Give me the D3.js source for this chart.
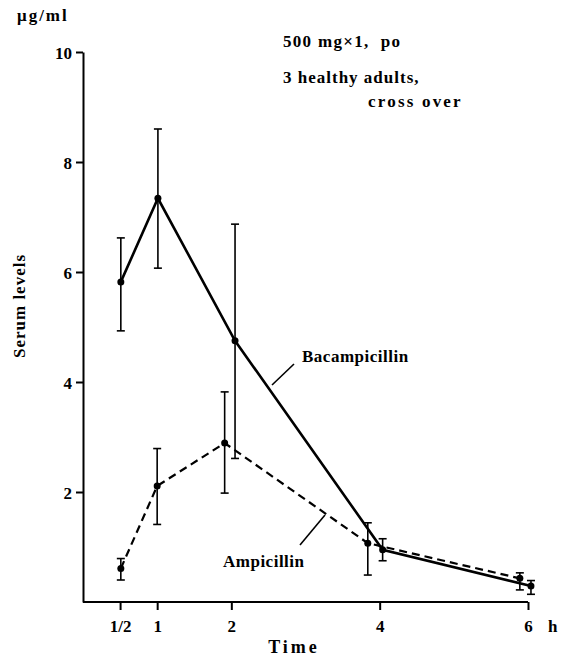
<!DOCTYPE html>
<meta charset="utf-8">
<style>
    body {
        margin: 0;
        background-color: #fff;
    }

    text {
        font-family: "Liberation Serif", "Times New Roman", serif;
        font-weight: bold;
        fill: #000;
    }

    .axis path,
    .axis line {
        stroke: #000;
        stroke-width: 2px;
    }

    .axis text {
        font-size: 17px;
    }

    .err {
        stroke: #000;
        stroke-width: 1.6px;
    }
</style>

<body>
    <script src="https://d3js.org/d3.v7.min.js"></script>
    <script>

        // time (h) as placed on the figure, mean and error bar ends (ug/ml)
        var bacTime = [0.51, 1.01, 2.05, 4.04, 6.04],
            bacMean = [5.82, 7.34, 4.75, 0.95, 0.29],
            bacHigh = [6.62, 8.60, 6.87, 1.15, 0.39],
            bacLow = [4.93, 6.07, 2.61, 0.75, 0.14];

        var ampTime = [0.51, 1.00, 1.91, 3.84, 5.89],
            ampMean = [0.61, 2.11, 2.89, 1.07, 0.43],
            ampHigh = [0.79, 2.79, 3.82, 1.44, 0.53],
            ampLow = [0.40, 1.41, 1.98, 0.49, 0.22];

        var xTicks = [0.5, 1, 2, 4, 6],
            xTickLabels = ["1/2", "1", "2", "4", "6"],
            yTicks = [2, 4, 6, 8, 10];

        var notes = ["500 mg\u00d71,\u00a0\u00a0po", "3 healthy adults,", "cross over"];

        var width = 565,
            height = 658;

        var x = d3.scaleLinear().domain([0, 6]).range([83, 528]);
        var y = d3.scaleLinear().domain([0, 10]).range([602, 52]);

        var svg = d3.select("body").append("svg")
            .attr("width", width)
            .attr("height", height);

        // axes
        var yAxis = svg.append("g")
            .attr("class", "axis")
            .attr("transform", "translate(" + x(0) + ",0)")
            .call(d3.axisLeft(y).tickValues(yTicks).tickSize(7).tickSizeOuter(0).tickPadding(4));
        yAxis.selectAll("text").attr("dy", "0.4em");

        var xAxis = svg.append("g")
            .attr("class", "axis")
            .attr("transform", "translate(0," + y(0) + ")")
            .call(d3.axisBottom(x).tickValues(xTicks).tickSize(8).tickSizeOuter(0).tickPadding(10)
                .tickFormat(function (d, i) { return xTickLabels[i]; }));
        xAxis.select(".domain").attr("d", "M" + x(0) + ",0H" + x(6));

        svg.append("text")
            .attr("x", 548).attr("y", 632)
            .attr("font-size", 17)
            .text("h");

        svg.append("text")
            .attr("x", 294).attr("y", 653)
            .attr("text-anchor", "middle")
            .attr("font-size", 18)
            .attr("letter-spacing", "3px")
            .text("Time");

        svg.append("text")
            .attr("x", 17).attr("y", 21)
            .attr("font-size", 17)
            .attr("letter-spacing", "2px")
            .text("\u03bcg/ml");

        svg.append("text")
            .attr("transform", "translate(25,306)rotate(-90)")
            .attr("text-anchor", "middle")
            .attr("font-size", 17)
            .attr("letter-spacing", "1px")
            .text("Serum levels");

        // notes at top right
        svg.append("text").attr("x", 283).attr("y", 47).attr("font-size", 17).attr("letter-spacing", "1.3px").text(notes[0]);
        svg.append("text").attr("x", 283).attr("y", 83).attr("font-size", 17).attr("letter-spacing", "1px").text(notes[1]);
        svg.append("text").attr("x", 368).attr("y", 107).attr("font-size", 17).attr("letter-spacing", "2.2px").text(notes[2]);

        function drawSeries(time, mean, high, low, dashed) {
            var pts = time.map(function (t, i) { return { t: t, m: mean[i], h: high[i], l: low[i] }; });
            var g = svg.append("g");

            g.append("path")
                .datum(pts)
                .attr("fill", "none")
                .attr("stroke", "#000")
                .attr("stroke-width", dashed ? 2.2 : 2.6)
                .attr("stroke-dasharray", dashed ? "8,5" : null)
                .attr("d", d3.line().x(function (d) { return x(d.t); }).y(function (d) { return y(d.m); }));

            var bars = g.selectAll(".bar").data(pts).enter().append("g").attr("class", "bar");
            bars.append("line").attr("class", "err")
                .attr("x1", function (d) { return x(d.t); }).attr("x2", function (d) { return x(d.t); })
                .attr("y1", function (d) { return y(d.h); }).attr("y2", function (d) { return y(d.l); });
            bars.append("line").attr("class", "err")
                .attr("x1", function (d) { return x(d.t) - 4; }).attr("x2", function (d) { return x(d.t) + 4; })
                .attr("y1", function (d) { return y(d.h); }).attr("y2", function (d) { return y(d.h); });
            bars.append("line").attr("class", "err")
                .attr("x1", function (d) { return x(d.t) - 4; }).attr("x2", function (d) { return x(d.t) + 4; })
                .attr("y1", function (d) { return y(d.l); }).attr("y2", function (d) { return y(d.l); });
            bars.append("circle")
                .attr("cx", function (d) { return x(d.t); })
                .attr("cy", function (d) { return y(d.m); })
                .attr("r", 3.5);
        }

        drawSeries(bacTime, bacMean, bacHigh, bacLow, false);
        drawSeries(ampTime, ampMean, ampHigh, ampLow, true);

        // series labels with leader lines
        svg.append("line")
            .attr("x1", 272).attr("y1", 385).attr("x2", 294).attr("y2", 364)
            .attr("stroke", "#000").attr("stroke-width", 1.6);
        svg.append("text")
            .attr("x", 302).attr("y", 362)
            .attr("font-size", 17)
            .attr("letter-spacing", "0.5px")
            .text("Bacampicillin");

        svg.append("line")
            .attr("x1", 300).attr("y1", 545).attr("x2", 325).attr("y2", 515)
            .attr("stroke", "#000").attr("stroke-width", 1.6);
        svg.append("text")
            .attr("x", 223).attr("y", 567)
            .attr("font-size", 17)
            .attr("letter-spacing", "0.5px")
            .text("Ampicillin");

    </script>
</body>
